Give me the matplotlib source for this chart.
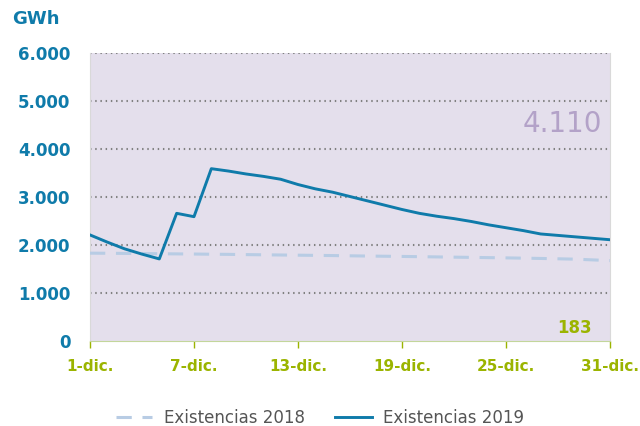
import matplotlib
matplotlib.use("Agg")
import matplotlib.pyplot as plt

# Existencias diarias de diciembre (GWh)
dias = list(range(1, 32))
existencias_2018 = [1830, 1828, 1825, 1822, 1818, 1815, 1812, 1808, 1805, 1800,
                    1796, 1792, 1788, 1784, 1780, 1775, 1770, 1766, 1762, 1757,
                    1752, 1747, 1742, 1737, 1732, 1726, 1720, 1713, 1705, 1690, 1675]
existencias_2019 = [2210, 2060, 1920, 1810, 1710, 2660, 2590, 3590, 3540, 3480,
                    3430, 3370, 3260, 3170, 3100, 3010, 2920, 2830, 2740, 2660,
                    2600, 2550, 2490, 2420, 2360, 2300, 2230, 2200, 2170, 2140, 2110]
ticks_x = [1, 7, 13, 19, 25, 31]
etiquetas_x = ["1-dic.", "7-dic.", "13-dic.", "19-dic.", "25-dic.", "31-dic."]
ticks_y = [0, 1000, 2000, 3000, 4000, 5000, 6000]
etiquetas_y = ["0", "1.000", "2.000", "3.000", "4.000", "5.000", "6.000"]

azul = "#0F7BAA"
verde = "#9BB400"

plt.rcParams["font.family"] = "DejaVu Sans"
fig = plt.figure(figsize=(6.4, 4.26), dpi=100)
ax = fig.add_axes([0.1406, 0.1995, 0.8125, 0.6761])
ax.set_facecolor("#E4DFEC")

ax.plot(dias, existencias_2018, color="#B8CCE4", lw=2.2, dashes=(5, 3.5),
        label="Existencias 2018", zorder=3)
ax.plot(dias, existencias_2019, color=azul, lw=2.1, label="Existencias 2019", zorder=4)

ax.set_xlim(1, 31)
ax.set_ylim(0, 6000)
ax.set_xticks(ticks_x)
ax.set_xticklabels(etiquetas_x, color=verde, fontweight="bold", fontsize=11)
ax.set_yticks(ticks_y)
ax.set_yticklabels(etiquetas_y, color=azul, fontweight="bold", fontsize=12)
ax.tick_params(axis="x", colors=verde, length=5, width=1, pad=8, labelcolor=verde)
ax.tick_params(axis="y", length=0, pad=14)

for v in ticks_y[1:]:
    ax.axhline(v, color="#808080", lw=1.5, linestyle=(0, (0.7, 1.8)), zorder=2)

ax.spines["top"].set_visible(False)
ax.spines["bottom"].set_color("#C3D69B")
ax.spines["left"].set_color("#D9D9D9")
ax.spines["right"].set_color("#D9D9D9")

ax.text(0.985, 0.755, "4.110", transform=ax.transAxes, ha="right", va="center",
        fontsize=20, color="#B3A2C8")
ax.text(0.965, 0.045, "183", transform=ax.transAxes, ha="right", va="center",
        fontsize=12, fontweight="bold", color=verde)
fig.text(0.019, 0.955, "GWh", ha="left", va="center", fontsize=13,
         fontweight="bold", color=azul)

leg = fig.legend(loc="center", bbox_to_anchor=(0.5, 0.018), ncol=2, frameon=False,
                 fontsize=12, handlelength=2.2, handletextpad=0.7, columnspacing=1.8)
for t in leg.get_texts():
    t.set_color("#555555")

fig.savefig("out.png", dpi=100)
